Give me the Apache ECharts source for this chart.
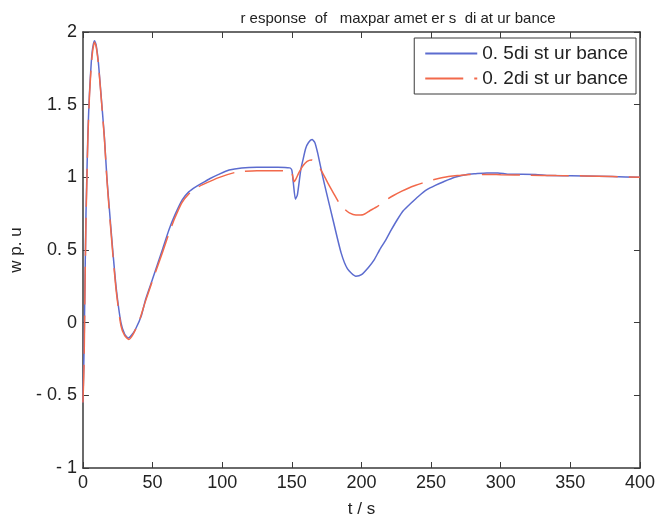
<!DOCTYPE html>
<html>
<head>
<meta charset="utf-8">
<script src="https://cdn.jsdelivr.net/npm/echarts@6/dist/echarts.min.js"></script>
<style>html,body{margin:0;padding:0;background:#fff;}#c{width:658px;height:523px;}</style>
</head>
<body>
<div id="c"></div>
<script>
var titleText = 'r esponse  of   maxpar amet er s  di at ur bance';
var seriesNames = ['0. 5di st ur bance', '0. 2di st ur bance'];
var xName = 't / s';
var yName = 'w p. u';
var xTickLabels = ['0','50','100','150','200','250','300','350','400'];
var yTickLabels = {'-1':'- 1','-0.5':'- 0. 5','0':'0','0.5':'0. 5','1':'1','1.5':'1. 5','2':'2'};

var tBlue = [0,0.8,1.5,2.2,3,3.6,4.7,6,7,8.3,9.5,11,12.5,14,15.4,17.2,19,21.4,24,27.3,30,32.6,35,38,42,45,50,57,61.8,66,71.3,76,81,85.6,91,97.5,105,114,125,140,148.5,150,151,152.6,154,156.4,158,160,162,164.5,166.5,168.5,170.5,172.3,175,179.5,185.4,190,196,200,205,209,213,217.5,221.5,225.8,230,235.3,241,247,253,259,267,275.7,282,290,298,305,325,335,360,380,400];
var vBlue = [-0.55,-0.2,0.3,0.75,1.08,1.31,1.58,1.79,1.89,1.94,1.91,1.8,1.63,1.45,1.28,1.0,0.78,0.5,0.23,0.0,-0.08,-0.105,-0.085,-0.04,0.05,0.16,0.3,0.5,0.64,0.74,0.845,0.9,0.935,0.96,0.99,1.02,1.05,1.065,1.07,1.07,1.065,1.05,0.97,0.85,0.88,1.05,1.12,1.2,1.24,1.26,1.24,1.17,1.08,1.0,0.89,0.71,0.48,0.37,0.32,0.33,0.38,0.43,0.5,0.57,0.64,0.71,0.77,0.82,0.87,0.915,0.945,0.97,1.0,1.02,1.025,1.03,1.03,1.022,1.02,1.012,1.01,1.005,1.0];

var tRed = [0,0.8,1.5,2.2,3,3.6,4.7,6,7,8.3,9.5,11,12.5,14,15.4,17.2,19,21.4,24,27.3,30,33,36,40,45,50,57,62,66,71,76,81,86,98,110,125,140,148,150,151.6,153,155,158,161,164,167,171,175.9,180,184.2,188,191.3,196,201,206,211.5,217,223,229,234,239,243.6,250,256,263.8,270,278,290,300,320,340,360,380,400];
var vRed = [-0.55,-0.3,0.25,0.7,1.04,1.28,1.56,1.77,1.87,1.93,1.9,1.79,1.62,1.44,1.27,0.99,0.76,0.48,0.21,-0.02,-0.09,-0.115,-0.08,0.0,0.15,0.29,0.48,0.62,0.72,0.825,0.885,0.925,0.95,1.0,1.035,1.045,1.045,1.045,1.035,0.97,0.99,1.03,1.08,1.11,1.12,1.1,1.05,0.96,0.89,0.82,0.78,0.755,0.74,0.742,0.77,0.8,0.84,0.875,0.905,0.927,0.945,0.96,0.98,0.993,1.007,1.013,1.02,1.02,1.018,1.015,1.012,1.01,1.005,1.0];

function pairs(t, v) { return t.map(function (x, i) { return [x, v[i]]; }); }

var blue = '#5c6ccf';
var red = '#f2694b';
var axisColor = '#3a3a3a';
var font = 'Liberation Sans';
var chart = echarts.init(document.getElementById('c'), null, {renderer: 'canvas'});
function boxAxis(extra) {
  return Object.assign({
    axisLine: {show: true, onZero: false, lineStyle: {color: axisColor, width: 1.5}},
    axisTick: {show: true, inside: true, length: 6, lineStyle: {color: axisColor}},
    splitLine: {show: false}
  }, extra);
}
chart.setOption({
  backgroundColor: '#ffffff',
  animation: false,
  title: {
    text: titleText, left: 393, top: 6, textAlign: 'center',
    textStyle: {fontFamily: font, fontSize: 15, fontWeight: 'normal', color: '#222'}
  },
  legend: {
    orient: 'vertical', right: 22, top: 38,
    padding: [6, 8, 6, 10], itemGap: 6, itemWidth: 52, itemHeight: 14,
    itemStyle: {opacity: 0},
    backgroundColor: '#fff', borderColor: axisColor, borderWidth: 1, borderRadius: 0,
    textStyle: {fontFamily: font, fontSize: 19, color: '#222'},
    data: [seriesNames[0], seriesNames[1]]
  },
  grid: {left: 80, right: 17, top: 32, bottom: 55, containLabel: false},
  xAxis: [boxAxis({
    type: 'value', min: 0, max: 400, interval: 50,
    name: xName, nameLocation: 'middle', nameGap: 33,
    nameTextStyle: {fontFamily: font, fontSize: 17, color: '#222'},
    axisLabel: {fontFamily: font, fontSize: 18, color: '#222', margin: 6,
      formatter: function (v) { return xTickLabels[Math.round(v / 50)]; }}
  }), boxAxis({
    type: 'value', min: 0, max: 400, interval: 50, position: 'top',
    axisLabel: {show: false}
  })],
  yAxis: [boxAxis({
    type: 'value', min: -1, max: 2, interval: 0.5,
    name: yName, nameLocation: 'middle', nameGap: 50, nameRotate: 90,
    nameTextStyle: {fontFamily: font, fontSize: 17, color: '#222'},
    axisLabel: {fontFamily: font, fontSize: 18, color: '#222', margin: 6,
      formatter: function (v) { return yTickLabels[String(Math.round(v * 2) / 2)]; }}
  }), boxAxis({
    type: 'value', min: -1, max: 2, interval: 0.5, position: 'right',
    axisLabel: {show: false}
  })],
  series: [{
    name: seriesNames[0], type: 'line', data: pairs(tBlue, vBlue),
    symbol: 'none', smooth: 0.2,
    lineStyle: {color: blue, width: 1.5}, itemStyle: {color: blue}
  }, {
    name: seriesNames[1], type: 'line', data: pairs(tRed, vRed),
    symbol: 'none', smooth: 0.2,
    lineStyle: {color: red, width: 1.5, type: [38, 11]}, itemStyle: {color: red}
  }]
});
</script>
</body>
</html>
